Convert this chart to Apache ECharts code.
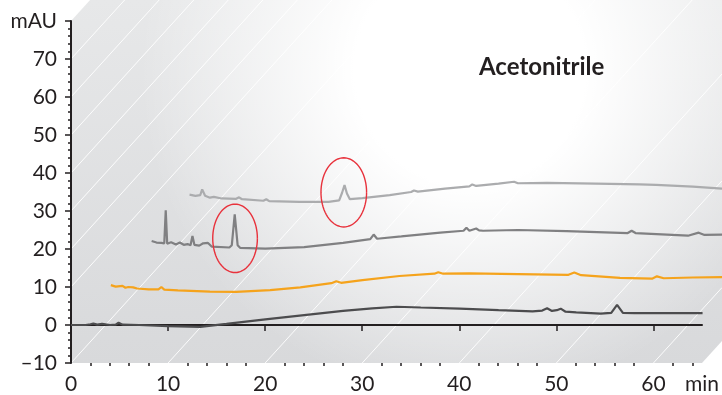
<!DOCTYPE html>
<html>
<head>
<meta charset="utf-8">
<script src="https://cdn.jsdelivr.net/npm/echarts@6/dist/echarts.min.js"></script>
<style>
  html, body { margin: 0; padding: 0; background: #fff; }
  #chart { width: 722px; height: 395px; }
</style>
</head>
<body>
<div id="chart"></div>
<script>
// retention time (min) and absorbance (mAU), bottom trace first
const trace1Time = [0, 1.5, 2.0, 2.3, 2.7, 3.2, 4.0, 4.6, 4.9, 5.3, 7, 10, 13.3, 16, 20, 24, 28, 31, 33.5, 36, 40, 44, 47.5, 48.5, 49.0, 49.5, 50.0, 50.4, 50.9, 52, 54.5, 55.6, 56.2, 56.8, 58, 61, 65];
const trace1Abs = [0, 0, 0.2, 0.4, 0.1, 0.3, 0, 0.1, 0.6, 0.1, 0, -0.3, -0.5, 0.3, 1.5, 2.6, 3.7, 4.4, 4.8, 4.6, 4.3, 3.9, 3.6, 3.8, 4.4, 3.7, 3.9, 4.3, 3.5, 3.3, 3.0, 3.2, 5.3, 3.2, 3.1, 3.1, 3.1];

const trace2Time = [4.1, 4.6, 5.3, 5.6, 5.9, 6.4, 6.8, 8, 9.0, 9.3, 9.6, 11, 14.3, 17, 20.5, 23.6, 26.8, 27.3, 27.8, 30, 33.8, 37.4, 37.8, 38.3, 41, 46, 51.2, 51.8, 52.5, 56.5, 59.8, 60.3, 61, 64, 67];
const trace2Abs = [10.5, 10.1, 10.3, 9.8, 10.0, 9.9, 9.6, 9.4, 9.4, 10.0, 9.3, 9.1, 8.8, 8.7, 9.2, 9.9, 11.0, 11.5, 11.1, 11.8, 12.9, 13.5, 13.9, 13.5, 13.6, 13.4, 13.2, 13.8, 13.1, 12.4, 12.2, 12.8, 12.3, 12.5, 12.6];

const trace3Time = [8.3, 8.8, 9.3, 9.6, 9.75, 9.9, 10.3, 10.8, 11.2, 11.6, 12.0, 12.3, 12.5, 12.7, 13.2, 13.6, 14.1, 14.5, 16.3, 16.55, 16.85, 17.15, 17.4, 20, 24, 28, 30.8, 31.15, 31.5, 34, 38, 40.4, 40.7, 41.0, 41.7, 42.0, 42.4, 46, 51, 57.3, 57.7, 58.1, 63.5, 64.6, 65.2, 67];
const trace3Abs = [22.1, 21.7, 21.6, 21.5, 30.2, 21.4, 21.8, 21.2, 21.7, 21.1, 21.3, 21.0, 23.4, 21.1, 20.9, 21.5, 21.6, 20.6, 20.4, 21.0, 29.1, 21.0, 20.3, 20.1, 20.5, 21.6, 22.6, 23.8, 22.7, 23.3, 24.3, 24.8, 25.6, 24.8, 25.4, 24.9, 24.8, 25.0, 24.7, 24.2, 24.8, 24.2, 23.5, 24.3, 23.7, 23.8];

const trace4Time = [12.2, 12.8, 13.3, 13.5, 13.8, 14.3, 14.7, 15.5, 17.0, 17.3, 17.6, 19.8, 20.1, 20.4, 23.5, 26.5, 27.6, 27.9, 28.15, 28.4, 28.7, 30, 32.8, 35.0, 35.3, 35.7, 38.5, 41.0, 41.3, 41.7, 44, 45.6, 46.0, 49, 54, 58.5, 60.2, 64, 67];
const trace4Abs = [34.3, 34.0, 34.2, 35.7, 34.0, 33.5, 33.7, 33.3, 33.2, 33.6, 33.1, 32.7, 33.1, 32.6, 32.4, 32.4, 32.8, 34.8, 36.8, 34.6, 33.1, 33.4, 34.2, 35.0, 35.4, 35.1, 35.9, 36.5, 37.0, 36.6, 37.2, 37.7, 37.3, 37.4, 37.2, 37.0, 36.9, 36.4, 35.9];

// circled peaks: centre (min, mAU) and half-extent (min, mAU)
const circleTime = [16.9, 28.1];
const circleAbs = [22.8, 34.9];
const circleHalfTime = [2.3, 2.35];
const circleHalfAbs = [9.0, 9.1];

const xLabelValues = [0, 10, 20, 30, 40, 50, 60, 65];
const xMajorTicks = [0, 10, 20, 30, 40, 50, 60];
const xMinorTicks = [2, 4, 6, 8, 12, 14, 16, 18, 22, 24, 26, 28, 32, 34, 36, 38, 42, 44, 46, 48, 52, 54, 56, 58, 62, 64];

const ink = '#231f20';
const font = 'Lato';

const pairs = (t, v) => t.map((x, i) => [x, v[i]]);

// traces run past the end of the time axis, so they sit on a wider hidden grid with the same scale
const traceSeries = (data, color) => ({
    type: 'line',
    xAxisIndex: 2,
    yAxisIndex: 1,
    data: data,
    showSymbol: false,
    lineStyle: { color: color, width: 2.2 },
    z: 3
});

const getOption = () => {
    return {
        animation: false,
        title: {
            text: 'Acetonitrile',
            left: 479,
            top: 55,
            padding: 0,
            textStyle: { fontFamily: font, fontWeight: 'bold', fontSize: 24, color: ink }
        },
        grid: [
            { left: 71, right: 19, top: 21, bottom: 32 },
            { left: 71, right: 0, top: 21, bottom: 32 }
        ],
        xAxis: [
            {
                type: 'value', min: 0, max: 65, position: 'bottom',
                axisLine: { lineStyle: { color: ink, width: 2 } },
                axisTick: { customValues: xMajorTicks, length: 6, lineStyle: { color: ink, width: 1.5 } },
                axisLabel: {
                    customValues: xLabelValues,
                    formatter: v => (v === 65 ? 'min' : String(v)),
                    fontFamily: font, fontSize: 21, color: ink, margin: 11
                },
                splitLine: { show: false }
            },
            {
                type: 'value', min: 0, max: 65, position: 'bottom', offset: 0,
                axisLine: { show: false },
                axisTick: { customValues: xMinorTicks, length: 3, lineStyle: { color: ink, width: 1.5 } },
                axisLabel: { show: false },
                splitLine: { show: false }
            },
            { type: 'value', gridIndex: 1, min: 0, max: 67, show: false }
        ],
        yAxis: [
            {
                type: 'value', min: -10, max: 80, interval: 10,
                axisLine: { show: true, lineStyle: { color: ink, width: 2 } },
                axisTick: { show: true, length: 6, lineStyle: { color: ink, width: 1.5 } },
                minorTick: { show: true, splitNumber: 5, length: 3, lineStyle: { color: ink, width: 1.5 } },
                axisLabel: {
                    formatter: v => (v === 80 ? 'mAU' : String(v).replace('-', '\u2013')),
                    fontFamily: font, fontSize: 21, color: ink, margin: 14
                },
                splitLine: { show: false }
            },
            { type: 'value', gridIndex: 1, min: -10, max: 80, show: false }
        ],
        series: [
            traceSeries(pairs(trace1Time, trace1Abs), '#4c4c4e'),
            traceSeries(pairs(trace2Time, trace2Abs), '#f5a31c'),
            traceSeries(pairs(trace3Time, trace3Abs), '#808082'),
            traceSeries(pairs(trace4Time, trace4Abs), '#abacae'),
            {
                type: 'custom',
                z: 4,
                data: circleTime.map((t, i) => [t, circleAbs[i], circleHalfTime[i], circleHalfAbs[i]]),
                renderItem: (params, api) => {
                    const c = api.coord([api.value(0), api.value(1)]);
                    const s = api.size([api.value(2), api.value(3)]);
                    const pts = [];
                    for (let i = 0; i <= 72; i++) {
                        const a = (i / 72) * Math.PI * 2;
                        pts.push([c[0] + s[0] * Math.cos(a), c[1] + s[1] * Math.sin(a)]);
                    }
                    return {
                        type: 'polyline',
                        shape: { points: pts },
                        style: { stroke: '#e8323c', lineWidth: 1.4, fill: null }
                    };
                }
            }
        ]
    };
};

// grey oblique floor with white guide lines, laid out from the axes
const getBackdrop = (chart) => {
    const W = 722;
    const slope = 1.1;
    const px = (t, v) => chart.convertToPixel({ xAxisIndex: 0, yAxisIndex: 0 }, [t, v]);
    const bl = px(0, -10);
    const br = px(65, -10);
    const tl = px(0, 80);
    const panel = [
        [bl[0], bl[1]], [br[0], br[1]],
        [W, br[1] - (W - br[0]) * slope], [W, 0],
        [tl[0] + tl[1] / slope, 0], [tl[0], tl[1]]
    ];
    const els = [
        {
            type: 'polygon', z: -3, silent: true,
            shape: { points: panel },
            style: {
                fill: new echarts.graphic.LinearGradient(0, 0, 0, bl[1], [
                    { offset: 0, color: '#e7e8e9' },
                    { offset: 1, color: '#d8d9db' }
                ], true)
            }
        },
        {
            type: 'polygon', z: -2, silent: true,
            shape: { points: panel },
            style: {
                fill: new echarts.graphic.RadialGradient(470, 70, 330, [
                    { offset: 0, color: 'rgba(255,255,255,1)' },
                    { offset: 0.35, color: 'rgba(255,255,255,1)' },
                    { offset: 1, color: 'rgba(255,255,255,0)' }
                ], true)
            }
        }
    ];
    const ray = (p) => {
        let dx = p[1] / slope;
        if (p[0] + dx > W) dx = W - p[0];
        return { type: 'line', z: -1, silent: true,
            shape: { x1: p[0], y1: p[1], x2: p[0] + dx, y2: p[1] - dx * slope },
            style: { stroke: 'rgba(255,255,255,0.9)', lineWidth: 1 } };
    };
    xMajorTicks.forEach(t => els.push(ray(px(t, -10))));
    [10, 20, 30, 40, 50, 60, 70].forEach(v => els.push(ray(px(0, v))));
    return els;
};

const initChart = () => {
    const chart = echarts.init(document.getElementById('chart'));
    chart.setOption(getOption());
    chart.setOption({ graphic: getBackdrop(chart) });
};

window.addEventListener('load', () => {
    initChart();
});
</script>
</body>
</html>
